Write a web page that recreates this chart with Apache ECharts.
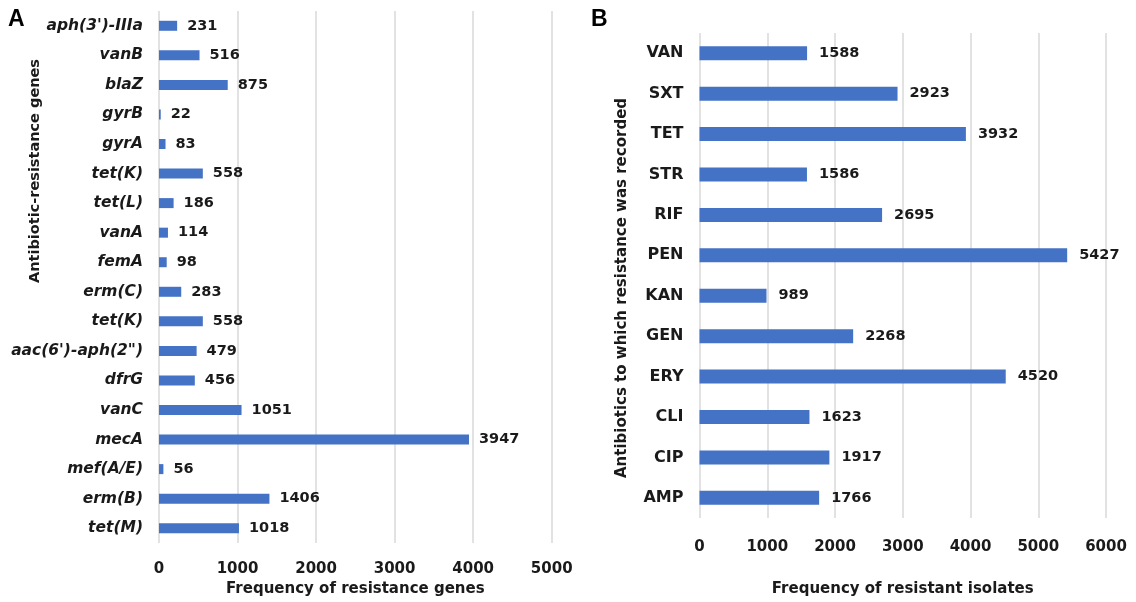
<!DOCTYPE html>
<html>
<head>
<meta charset="utf-8">
<script src="https://cdn.jsdelivr.net/npm/echarts@6/dist/echarts.min.js"></script>
<style>
html,body{margin:0;padding:0;background:#fff;}
#chart{width:1136px;height:602px;}
</style>
</head>
<body>
<div id="chart"></div>
<script>
var genes = ["aph(3')-IIIa","vanB","blaZ","gyrB","gyrA","tet(K)","tet(L)","vanA","femA","erm(C)","tet(K)","aac(6')-aph(2\")","dfrG","vanC","mecA","mef(A/E)","erm(B)","tet(M)"];
var geneCounts = [231,516,875,22,83,558,186,114,98,283,558,479,456,1051,3947,56,1406,1018];
var antibiotics = ["VAN","SXT","TET","STR","RIF","PEN","KAN","GEN","ERY","CLI","CIP","AMP"];
var isolateCounts = [1588,2923,3932,1586,2695,5427,989,2268,4520,1623,1917,1766];
var ticksA = [0,1000,2000,3000,4000,5000];
var ticksB = [0,1000,2000,3000,4000,5000,6000];

var FONT = "DejaVu Sans";
var TXT = "#1a1a1a";
var BAR = "#4472C4";
var GRIDC = "#d9d9d9";
function plain(v){ return String(v); }

var chart = echarts.init(document.getElementById('chart'));
chart.setOption({
  animation:false,
  backgroundColor:'#fff',
  grid:[
    {left:159, right:1136-551.7, top:11, bottom:55, containLabel:false},
    {left:699.5, right:1136-1106, top:33, bottom:77, containLabel:false}
  ],
  xAxis:[
    {gridIndex:0, type:'value', min:ticksA[0], max:ticksA[ticksA.length-1], interval:1000,
     name:'Frequency of resistance genes', nameLocation:'middle', nameGap:39,
     nameTextStyle:{fontFamily:FONT, fontWeight:'bold', fontSize:15, color:TXT},
     axisLine:{show:false}, axisTick:{show:false},
     axisLabel:{fontFamily:FONT, fontWeight:'bold', fontSize:15, color:TXT, margin:19, formatter:plain},
     splitLine:{show:true, lineStyle:{color:GRIDC, width:1.5}}},
    {gridIndex:1, type:'value', min:ticksB[0], max:ticksB[ticksB.length-1], interval:1000,
     name:'Frequency of resistant isolates', nameLocation:'middle', nameGap:64,
     nameTextStyle:{fontFamily:FONT, fontWeight:'bold', fontSize:15, color:TXT},
     axisLine:{show:false}, axisTick:{show:false},
     axisLabel:{fontFamily:FONT, fontWeight:'bold', fontSize:15, color:TXT, margin:22, formatter:plain},
     splitLine:{show:true, lineStyle:{color:GRIDC, width:1.5}}}
  ],
  yAxis:[
    {gridIndex:0, type:'category', data:genes, inverse:true,
     axisLine:{show:false}, axisTick:{show:false},
     axisLabel:{fontFamily:FONT, fontWeight:'bold', fontStyle:'italic', fontSize:15.5, color:TXT, margin:16}},
    {gridIndex:1, type:'category', data:antibiotics, inverse:true,
     axisLine:{show:false}, axisTick:{show:false},
     axisLabel:{fontFamily:FONT, fontWeight:'bold', fontSize:16, color:TXT, margin:16}}
  ],
  series:[
    {type:'bar', xAxisIndex:0, yAxisIndex:0, data:geneCounts, barWidth:10,
     itemStyle:{color:BAR},
     label:{show:true, position:'right', distance:10, fontFamily:FONT, fontWeight:'bold', fontSize:14.5, color:TXT}},
    {type:'bar', xAxisIndex:1, yAxisIndex:1, data:isolateCounts, barWidth:14,
     itemStyle:{color:BAR},
     label:{show:true, position:'right', distance:12, fontFamily:FONT, fontWeight:'bold', fontSize:14.5, color:TXT}}
  ],
  graphic:[
    {type:'text', left:8, top:8, style:{text:'A', font:'bold 23px "Liberation Sans"', fill:'#000'}},
    {type:'text', left:591, top:8, style:{text:'B', font:'bold 23px "Liberation Sans"', fill:'#000'}},
    {type:'text', x:35, y:171, rotation:Math.PI/2,
     style:{text:'Antibiotic-resistance genes', font:'bold 14.5px "DejaVu Sans"', fill:TXT, align:'center', verticalAlign:'middle'}},
    {type:'text', x:622, y:288, rotation:Math.PI/2,
     style:{text:'Antibiotics to which resistance was recorded', font:'bold 15px "DejaVu Sans"', fill:TXT, align:'center', verticalAlign:'middle'}}
  ]
});
</script>
</body>
</html>
